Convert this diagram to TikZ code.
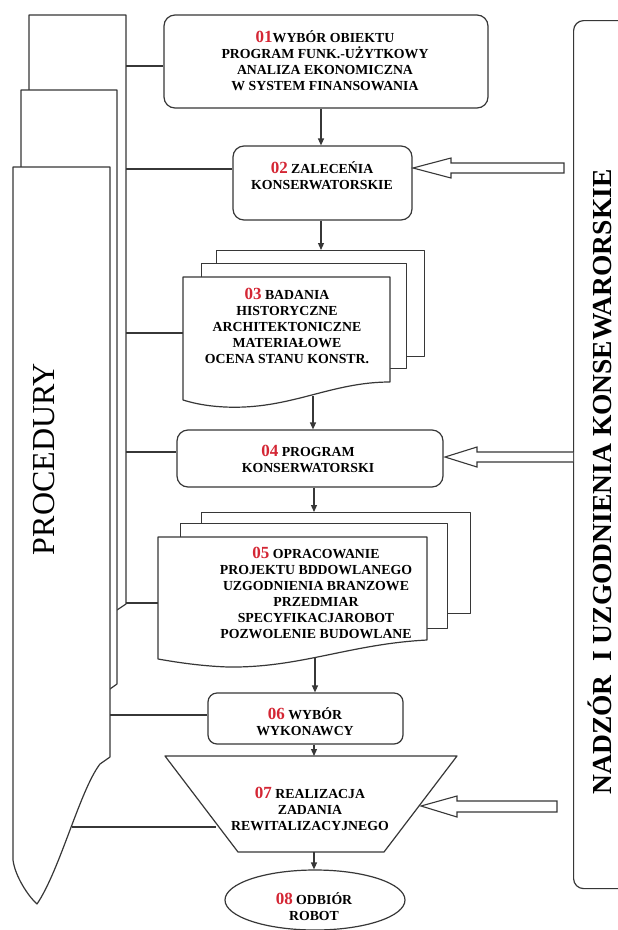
\documentclass[tikz,border=0pt]{standalone}
\usepackage{fontspec}
\setmainfont{Liberation Serif}
\usetikzlibrary{shapes.geometric,arrows.meta}
\definecolor{ln}{RGB}{55,55,55}
\definecolor{numred}{RGB}{212,38,52}
\newcommand\rednum[1]{{\fontsize{17}{16}\selectfont\color{numred}#1}}
\begin{document}
\begin{tikzpicture}[x=1pt,y=-1pt,
  outl/.style={draw=ln, line width=1.2pt, fill=white, line join=round},
  rbox/.style={outl, rectangle, rounded corners=11pt, inner sep=0pt},
  sheet/.style={outl, rectangle, inner sep=0pt, anchor=north west},
  conn/.style={draw=ln, line width=1.2pt},
  arr/.style={conn, -{Triangle[length=7pt,width=6pt]}},
  blk/.style={draw=ln, line width=1.1pt, fill=white, line join=miter},
  txt/.style={align=center, inner sep=0pt, font=\fontsize{13.8}{16}\selectfont\bfseries, text=black},
]
\useasboundingbox (0,0) rectangle (618,930);
\clip (0,0) rectangle (618,930);
\fill[white] (0,0) rectangle (618,930);

% ---------- left stack PROCEDURY ----------
\draw[outl] (29,15) -- (126,15) -- (126,604) -- (117,610) -- (29,610) -- cycle;
\draw[outl] (21,90) -- (117,90) -- (117,684) -- (110,689) -- (21,689) -- cycle;
\draw[outl] (13,167) -- (110,167) -- (110,757) -- (100,764)
   .. controls (80,790) and (60,870) .. (37,904)
   .. controls (28,896) and (15,876) .. (13,860) -- cycle;
\node[rotate=90, inner sep=0pt, font=\fontsize{32}{32}\selectfont] (proc) at (44,459) {PROCEDURY};

\coordinate (c1) at (126,66);
\coordinate (c2) at (126,169);
\coordinate (c3) at (126,333);
\coordinate (c4) at (126,452);
\coordinate (c5) at (126,603);
\coordinate (c6) at (110,715);
\coordinate (c7) at (72,827);

% ---------- right panel ----------
\node[outl, rectangle, rounded corners=10pt, anchor=north west, minimum width=90, minimum height=868, inner sep=0pt] (nad) at (573,20) {};
\node[rotate=90, inner sep=0pt, font=\fontsize{27.5}{27.5}\selectfont\bfseries] (nadt) at (600,482) {NADZÓR\ \ I UZGODNIENIA KONSEWARORSKIE};

% ---------- boxes ----------
\node[rbox, minimum width=324, minimum height=93] (b1) at (326,61.5) {};
\node[txt] (t1) at (325,61) {\rednum{01}WYBÓR OBIEKTU\\PROGRAM FUNK.-UŻYTKOWY\\ANALIZA EKONOMICZNA\\W SYSTEM FINANSOWANIA};

\node[rbox, minimum width=179, minimum height=74] (b2) at (322.5,183) {};
\node[txt] (t2) at (322,176) {\rednum{02} ZALECEŃIA\\KONSERWATORSKIE};

% box 03 (multi document)
\node[sheet, minimum width=208, minimum height=106] (s3a) at (216,250) {};
\node[sheet, minimum width=205, minimum height=105] (s3b) at (201,263) {};
\draw[outl] (183,277) coordinate (f3) -- (390,277) -- (390,382)
   .. controls (330,382) and (290,410) .. (225,407)
   .. controls (205,406) and (193,403) .. (183,400) -- cycle;
\coordinate (w3) at (313,396);
\node[txt] (t3) at (287,326) {\rednum{03} BADANIA\\HISTORYCZNE\\ARCHITEKTONICZNE\\MATERIAŁOWE\\OCENA STANU KONSTR.};

\node[rbox, minimum width=266, minimum height=57] (b4) at (310,458.5) {};
\node[txt] (t4) at (308,458.5) {\rednum{04} PROGRAM\\KONSERWATORSKI};

% box 05 (multi document)
\node[sheet, minimum width=269, minimum height=101] (s5a) at (201,512) {};
\node[sheet, minimum width=267, minimum height=105] (s5b) at (180,523) {};
\draw[outl] (158,537) coordinate (f5) -- (427,537) -- (427,640)
   .. controls (350,644) and (300,668) .. (228,667)
   .. controls (200,666) and (175,662) .. (158,659) -- cycle;
\coordinate (w5) at (315,657);
\node[txt] (t5) at (316,592.5) {\rednum{05} OPRACOWANIE\\PROJEKTU BDDOWLANEGO\\UZGODNIENIA BRANZOWE\\PRZEDMIAR\\SPECYFIKACJAROBOT\\POZWOLENIE BUDOWLANE};

\node[rbox, rounded corners=9pt, minimum width=195, minimum height=51] (b6) at (305.5,718.5) {};
\node[txt] (t6) at (305,721.5) {\rednum{06} WYBÓR\\WYKONAWCY};

% box 07 trapezoid
\draw[outl] (165,756) coordinate (b7) -- (457,756) -- (384,852) -- (238,852) -- cycle;
\coordinate (b7s) at (311,852);
\coordinate (e7) at (216,827);
\node[txt] (t7) at (310,808.5) {\rednum{07} REALIZACJA\\ZADANIA\\REWITALIZACYJNEGO};

\node[outl, ellipse, minimum width=180, minimum height=60, inner sep=0pt] (b8) at (315,900) {};
\node[txt] (t8) at (314,906.5) {\rednum{08} ODBIÓR\\ROBOT};

% ---------- flow arrows ----------
\coordinate (ax1) at (321,0);
\coordinate (ax2) at (314,0);
\draw[arr] (b1.south -| ax1) -- (b2.north -| ax1);
\draw[arr] (b2.south -| ax1) -- (s3a.north -| ax1);
\draw[arr] (w3) -- (w3 |- b4.north);
\draw[arr] (b4.south -| ax2) -- (s5a.north -| ax2);
\draw[arr] (w5) -- (w5 |- b6.north);
\draw[arr] (b6.south -| ax2) -- (b7 -| ax2);
\draw[arr] (b7s -| ax2) -- (b8.north -| ax2);

% ---------- connectors from PROCEDURY ----------
\draw[conn] (c1) -- (c1 -| b1.west);
\draw[conn] (c2) -- (c2 -| b2.west);
\draw[conn] (c3) -- (c3 -| f3);
\draw[conn] (c4) -- (c4 -| b4.west);
\draw[conn] (c5) -- (c5 -| f5);
\draw[conn] (c6) -- (c6 -| b6.west);
\draw[conn] (c7) -- (e7);

% ---------- block arrows from NADZOR ----------
\draw[blk] (413,168) -- (451,158) -- (451,163) -- (564,163) -- (564,173) -- (451,173) -- (451,178) -- cycle;
\draw[blk] (nad.west |- 0,452) -- (477,452) -- (477,447) -- (445,457) -- (477,467) -- (477,462) -- (nad.west |- 0,462);
\draw[blk] (421,806) -- (457,796) -- (457,801) -- (557,801) -- (557,812) -- (457,812) -- (457,817) -- cycle;
\end{tikzpicture}
\end{document}
